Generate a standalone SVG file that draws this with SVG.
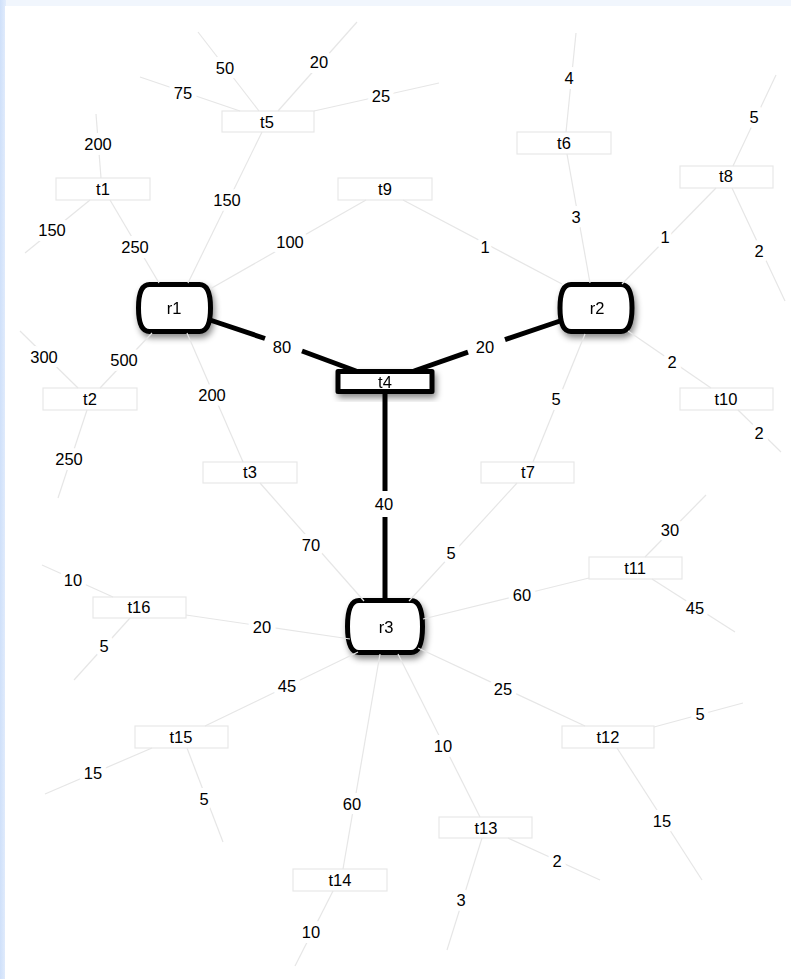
<svg xmlns="http://www.w3.org/2000/svg" xmlns:xlink="http://www.w3.org/1999/xlink" width="791" height="979" viewBox="0 0 791 979">
<defs>
<linearGradient id="edgeL" x1="0" y1="0" x2="1" y2="0">
<stop offset="0" stop-color="#cfe0fa"/><stop offset="1" stop-color="#e3edfc"/>
</linearGradient>
<filter id="shadow" x="-30%" y="-40%" width="160%" height="190%">
<feDropShadow dx="2" dy="4" stdDeviation="3" flood-color="#000" flood-opacity="0.45"/>
</filter>
<path id="router" d="M-25,-23.5 H25 C33,-23.5 36,-15 36,0 C36,15 33,23.5 25,23.5 H-25 C-33,23.5 -36,15 -36,0 C-36,-15 -33,-23.5 -25,-23.5 Z"/>
<path id="routerL" d="M-26,-26 H26 C34.5,-26 37.5,-16 37.5,0 C37.5,16 34.5,26 26,26 H-26 C-34.5,26 -37.5,16 -37.5,0 C-37.5,-16 -34.5,-26 -26,-26 Z"/>
</defs>
<style>
text{font-family:"Liberation Sans",Arial,Helvetica,sans-serif;font-size:16.5px;fill:#000;text-anchor:middle}
.lbl{paint-order:stroke;stroke:#fff;stroke-width:10px;stroke-linejoin:round}
.thin line{stroke:#e6e6e6;stroke-width:1.2}
.thick line{stroke:#000;stroke-width:5}
.tbox{fill:#fff;stroke:#e8e8e8;stroke-width:1.2}
.rt{fill:#fff;stroke:#000;stroke-width:5;stroke-linejoin:round}
</style>
<rect x="0" y="0" width="791" height="979" fill="#f1f6fd"/>
<rect x="0" y="0" width="6" height="979" fill="url(#edgeL)"/>
<rect x="5" y="6" width="786" height="973" fill="#fff"/>

<g id="t5"><rect class="tbox" x="222" y="111" width="92" height="21"/><text x="267" y="128">t5</text></g>
<g id="t1"><rect class="tbox" x="56" y="178" width="94" height="22"/><text x="103" y="195">t1</text></g>
<g id="t9"><rect class="tbox" x="338" y="178" width="94" height="22"/><text x="385" y="195">t9</text></g>
<g id="t6"><rect class="tbox" x="517" y="132" width="94" height="22"/><text x="564" y="149">t6</text></g>
<g id="t8"><rect class="tbox" x="680" y="166" width="93" height="22"/><text x="726" y="182">t8</text></g>
<g id="t2"><rect class="tbox" x="43" y="388" width="94" height="22"/><text x="90" y="405">t2</text></g>
<g id="t3"><rect class="tbox" x="203" y="462" width="94" height="21"/><text x="250" y="478">t3</text></g>
<g id="t10"><rect class="tbox" x="680" y="388" width="93" height="22"/><text x="726" y="405">t10</text></g>
<g id="t7"><rect class="tbox" x="481" y="462" width="93" height="21"/><text x="528" y="478">t7</text></g>
<g id="t11"><rect class="tbox" x="589" y="557" width="93" height="22"/><text x="635" y="574">t11</text></g>
<g id="t16"><rect class="tbox" x="93" y="597" width="93" height="21"/><text x="139" y="613">t16</text></g>
<g id="t15"><rect class="tbox" x="135" y="726" width="93" height="22"/><text x="181" y="743">t15</text></g>
<g id="t12"><rect class="tbox" x="562" y="726" width="92" height="22"/><text x="608" y="743">t12</text></g>
<g id="t13"><rect class="tbox" x="439" y="817" width="93" height="21"/><text x="486" y="834">t13</text></g>
<g id="t14"><rect class="tbox" x="293" y="869" width="94" height="22"/><text x="340" y="886">t14</text></g>

<g id="r1" filter="url(#shadow)"><use xlink:href="#router" href="#router" class="rt" x="174.5" y="308"/><text x="174" y="314">r1</text></g>
<g id="r2" filter="url(#shadow)"><use xlink:href="#router" href="#router" class="rt" x="596" y="308"/><text x="597" y="314">r2</text></g>
<g id="r3" filter="url(#shadow)"><use xlink:href="#routerL" href="#routerL" class="rt" x="385" y="626.5"/><text x="386" y="633">r3</text></g>

<g id="connectors">
<g class="thin">
<line x1="198" y1="32" x2="259" y2="111"/>
<line x1="357" y1="22" x2="278" y2="111"/>
<line x1="140" y1="77" x2="240" y2="111"/>
<line x1="439" y1="83" x2="314" y2="111"/>
<line x1="262" y1="132" x2="188" y2="283"/>
<line x1="96" y1="114" x2="101" y2="178"/>
<line x1="90" y1="200" x2="25" y2="253"/>
<line x1="110" y1="200" x2="159" y2="283"/>
<line x1="366" y1="200" x2="210" y2="289"/>
<line x1="403" y1="200" x2="562" y2="284"/>
<line x1="576" y1="33" x2="566" y2="132"/>
<line x1="567" y1="154" x2="590" y2="283"/>
<line x1="776" y1="75" x2="733" y2="166"/>
<line x1="716" y1="188" x2="622" y2="284"/>
<line x1="732" y1="188" x2="785" y2="301"/>
<line x1="152" y1="333" x2="100" y2="388"/>
<line x1="187" y1="333" x2="243" y2="462"/>
<line x1="20" y1="331" x2="78" y2="388"/>
<line x1="87" y1="410" x2="58" y2="498"/>
<line x1="260" y1="483" x2="364" y2="601"/>
<line x1="628" y1="331" x2="711" y2="388"/>
<line x1="585" y1="334" x2="533" y2="462"/>
<line x1="738" y1="410" x2="781" y2="452"/>
<line x1="517" y1="483" x2="409" y2="601"/>
<line x1="706" y1="495" x2="645" y2="557"/>
<line x1="652" y1="579" x2="735" y2="632"/>
<line x1="589" y1="578" x2="423" y2="619"/>
<line x1="418" y1="648" x2="585" y2="726"/>
<line x1="398" y1="654" x2="480" y2="817"/>
<line x1="380" y1="654" x2="343" y2="869"/>
<line x1="358" y1="652" x2="205" y2="726"/>
<line x1="186" y1="615" x2="350" y2="639"/>
<line x1="42" y1="565" x2="113" y2="597"/>
<line x1="130" y1="618" x2="74" y2="680"/>
<line x1="152" y1="748" x2="45" y2="794"/>
<line x1="187" y1="748" x2="223" y2="842"/>
<line x1="654" y1="727" x2="743" y2="703"/>
<line x1="617" y1="748" x2="702" y2="880"/>
<line x1="508" y1="838" x2="600" y2="880"/>
<line x1="482" y1="838" x2="447" y2="950"/>
<line x1="333" y1="891" x2="295" y2="966"/>
</g>
<g class="thick">
<line x1="210" y1="320" x2="265" y2="338.5"/>
<line x1="302" y1="351" x2="356" y2="371"/>
<line x1="560" y1="321" x2="505" y2="339.6"/>
<line x1="468" y1="352.1" x2="414" y2="371"/>
<line x1="385" y1="392" x2="385" y2="491"/>
<line x1="385" y1="517" x2="385" y2="600"/>
</g>
</g>

<g id="t4" filter="url(#shadow)"><rect class="rt" x="338" y="371.5" width="94" height="20"/><text x="385" y="387.5">t4</text></g>

<g id="labels">
<text class="lbl" x="225" y="74">50</text>
<text class="lbl" x="319" y="68">20</text>
<text class="lbl" x="183" y="99">75</text>
<text class="lbl" x="381" y="102">25</text>
<text class="lbl" x="227" y="206">150</text>
<text class="lbl" x="98" y="150">200</text>
<text class="lbl" x="52" y="236">150</text>
<text class="lbl" x="135" y="253">250</text>
<text class="lbl" x="290" y="248">100</text>
<text class="lbl" x="485" y="253">1</text>
<text class="lbl" x="569" y="84">4</text>
<text class="lbl" x="576" y="223">3</text>
<text class="lbl" x="754" y="123">5</text>
<text class="lbl" x="665" y="243">1</text>
<text class="lbl" x="759" y="257">2</text>
<text class="lbl" x="124" y="366">500</text>
<text class="lbl" x="212" y="401">200</text>
<text class="lbl" x="44" y="363">300</text>
<text class="lbl" x="69" y="465">250</text>
<text class="lbl" x="311" y="551">70</text>
<text class="lbl" x="672" y="368">2</text>
<text class="lbl" x="556" y="405">5</text>
<text class="lbl" x="759" y="439">2</text>
<text class="lbl" x="451" y="559">5</text>
<text class="lbl" x="670" y="536">30</text>
<text class="lbl" x="695" y="614">45</text>
<text class="lbl" x="522" y="601">60</text>
<text class="lbl" x="503" y="695">25</text>
<text class="lbl" x="443" y="752">10</text>
<text class="lbl" x="352" y="810">60</text>
<text class="lbl" x="287" y="692">45</text>
<text class="lbl" x="262" y="633">20</text>
<text class="lbl" x="73" y="586">10</text>
<text class="lbl" x="104" y="652">5</text>
<text class="lbl" x="93" y="779">15</text>
<text class="lbl" x="204" y="805">5</text>
<text class="lbl" x="700" y="720">5</text>
<text class="lbl" x="662" y="827">15</text>
<text class="lbl" x="557" y="867">2</text>
<text class="lbl" x="461" y="906">3</text>
<text class="lbl" x="311" y="938">10</text>
<text x="282" y="353">80</text>
<text x="485" y="353">20</text>
<text x="384" y="510">40</text>
</g>
</svg>
